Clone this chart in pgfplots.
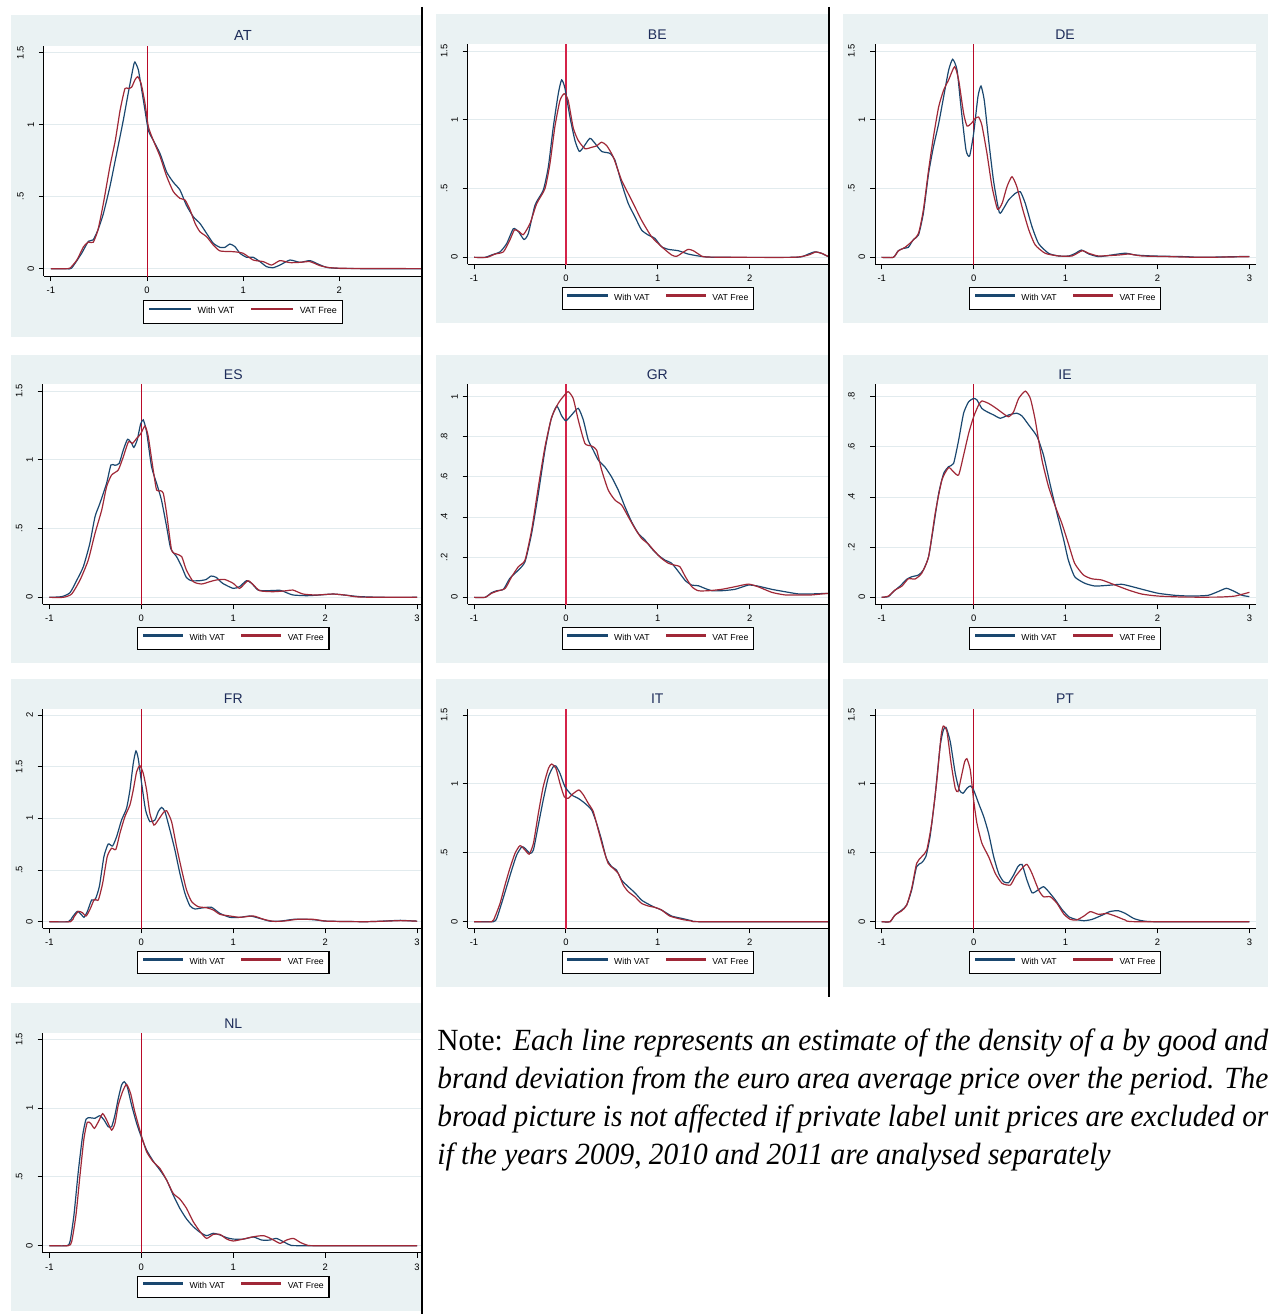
\documentclass[border=0pt]{standalone}
\usepackage{pgfplots}
\pgfplotsset{compat=1.18}
\usepackage{fontspec}
\setmainfont{Liberation Sans}
\newfontfamily\notefont[FakeStretch=0.955]{Liberation Serif}
\definecolor{bgc}{RGB}{234,242,243}
\definecolor{gridc}{RGB}{226,235,238}
\definecolor{navyc}{RGB}{26,71,111}
\definecolor{maroonc}{RGB}{160,40,55}
\definecolor{xthin}{RGB}{185,10,40}
\definecolor{xthick}{RGB}{212,35,72}
\definecolor{titlec}{RGB}{30,45,90}
\newcommand\dl[1]{\raisebox{5.2pt}{#1}}
\pgfplotsset{
  panel/.style={
    scale only axis, anchor=south west,
    axis x line=bottom, axis y line=left,
    axis line style={-, black, line width=0.5pt},
    tick align=outside, major tick length=2.5pt,
    tick style={black, line width=0.5pt},
    xtick={-1,0,1,2,3}, xticklabels={-1,0,1,2,3},
    xticklabel style={font=\fontsize{4.7pt}{5pt}\selectfont, inner sep=0pt, anchor=north, yshift=-2.75pt},
    yticklabel style={font=\fontsize{4.7pt}{5pt}\selectfont, rotate=90, anchor=south, inner sep=0pt},
    yticklabel shift=2.25pt,
    ymajorgrids, grid style={gridc, line width=0.5pt},
    axis background/.style={fill=white},
    legend columns=2, legend cell align=left,
    legend style={draw=black, line width=0.55pt, fill=white, inner xsep=2.6pt, inner ysep=3pt,
      anchor=center, font=\fontsize{4.35pt}{4.5pt}\selectfont,
      /tikz/every odd column/.append style={column sep=3.2pt},
      /tikz/every even column/.append style={column sep=8pt},
      nodes={inner sep=0pt}},
    clip=true,
  },
  wv/.style={navyc, line width=0.6pt, smooth, tension=0.35, forget plot},
  vf/.style={maroonc, line width=0.6pt, smooth, tension=0.35, forget plot},
  xln/.style={xthin, line width=0.5pt, forget plot},
  xlk/.style={xthick, line width=0.85pt, forget plot},
  geoL/.style={xmin=-1.072, xmax=3.043},
  geoM/.style={xmin=-1.069, xmax=2.863},
  geoR/.style={xmin=-1.073, xmax=3.072},
  y15/.style={ytick={0,0.5,1,1.5}, yticklabels={0,\dl{.5},1,\dl{1.5}}},
}
\newcommand\leg[1][19.65pt]{%
  \addlegendimage{legend image code/.code={\fill[navyc] (0pt,1.22pt) rectangle (#1,1.88pt);}}\addlegendentry{With VAT}%
  \addlegendimage{legend image code/.code={\fill[maroonc] (0pt,1.22pt) rectangle (#1,1.88pt);}}\addlegendentry{VAT Free}}
\begin{document}
\begin{tikzpicture}
\path[use as bounding box] (0pt,0pt) rectangle (637.5pt,-657pt);
% panel backgrounds
\fill[bgc] (5.5pt,-7.5pt) rectangle (211pt,-168.5pt);
\fill[bgc] (218pt,-7pt) rectangle (414.5pt,-161.35pt);
\fill[bgc] (421.65pt,-7pt) rectangle (633.85pt,-161.35pt);
\fill[bgc] (5.5pt,-177.5pt) rectangle (211pt,-331.35pt);
\fill[bgc] (218pt,-177.5pt) rectangle (414.5pt,-331.35pt);
\fill[bgc] (421.65pt,-177.5pt) rectangle (633.85pt,-331.35pt);
\fill[bgc] (5.5pt,-339.65pt) rectangle (211pt,-493.35pt);
\fill[bgc] (218pt,-339.65pt) rectangle (414.5pt,-493.35pt);
\fill[bgc] (421.65pt,-339.65pt) rectangle (633.85pt,-493.35pt);
\fill[bgc] (5.5pt,-501.65pt) rectangle (211pt,-655.35pt);
% titles
\begin{scope}[every node/.style={text=titlec, inner sep=0pt, anchor=center}]
\node[font=\fontsize{7.3pt}{8pt}\selectfont] at (121.5pt,-17.5pt) {AT};
\node[font=\fontsize{7pt}{8pt}\selectfont] at (328.65pt,-17.15pt) {BE};
\node[font=\fontsize{7pt}{8pt}\selectfont] at (532.5pt,-17.15pt) {DE};
\node[font=\fontsize{7pt}{8pt}\selectfont] at (116.65pt,-187.15pt) {ES};
\node[font=\fontsize{7pt}{8pt}\selectfont] at (328.65pt,-187.15pt) {GR};
\node[font=\fontsize{7pt}{8pt}\selectfont] at (532.5pt,-187.15pt) {IE};
\node[font=\fontsize{7pt}{8pt}\selectfont] at (116.65pt,-349.5pt) {FR};
\node[font=\fontsize{7pt}{8pt}\selectfont] at (328.65pt,-349.5pt) {IT};
\node[font=\fontsize{7pt}{8pt}\selectfont] at (532.5pt,-349.5pt) {PT};
\node[font=\fontsize{7pt}{8pt}\selectfont] at (116.65pt,-511.65pt) {NL};
\end{scope}

% AT
\begin{axis}[panel, at={(22pt,-138pt)}, width=188.5pt, height=115pt,
  xmin=-1.072, xmax=2.851, ymin=-0.0509, ymax=1.546, y15,
  legend style={at={(0.5279,-0.1565)}, font=\fontsize{4.5pt}{4.7pt}\selectfont, inner xsep=2.8pt, inner ysep=3.2pt,
    /tikz/every even column/.append style={column sep=8.5pt}}]
\addplot[xln] coordinates {(0,-1) (0,3)};
\addplot[wv] coordinates {(-1,0) (-0.84,0) (-0.785,0.004) (-0.68,0.107) (-0.61,0.19) (-0.56,0.2) (-0.51,0.27) (-0.455,0.38) (-0.386,0.57) (-0.316,0.80) (-0.247,1.03) (-0.195,1.22) (-0.143,1.40) (-0.126,1.435) (-0.09,1.38) (-0.055,1.24) (-0.021,1.10) (0.014,0.96) (0.066,0.89) (0.135,0.80) (0.205,0.67) (0.274,0.60) (0.343,0.546) (0.41,0.44) (0.482,0.36) (0.55,0.315) (0.62,0.245) (0.69,0.176) (0.76,0.148) (0.81,0.148) (0.863,0.171) (0.915,0.153) (0.967,0.107) (1.036,0.079) (1.105,0.079) (1.175,0.049) (1.244,0.014) (1.313,0.007) (1.383,0.025) (1.487,0.06) (1.591,0.044) (1.695,0.056) (1.78,0.032) (1.87,0.009) (2.0,0.002) (2.28,0) (3,0)};
\addplot[vf] coordinates {(-1,0) (-0.85,0) (-0.8,0.005) (-0.73,0.06) (-0.66,0.153) (-0.61,0.185) (-0.56,0.183) (-0.51,0.27) (-0.455,0.45) (-0.386,0.71) (-0.33,0.89) (-0.28,1.10) (-0.23,1.25) (-0.195,1.25) (-0.16,1.26) (-0.126,1.31) (-0.097,1.333) (-0.062,1.287) (-0.021,1.148) (0.014,0.986) (0.066,0.89) (0.135,0.78) (0.205,0.64) (0.274,0.535) (0.343,0.488) (0.395,0.477) (0.447,0.41) (0.5,0.315) (0.55,0.257) (0.62,0.222) (0.69,0.164) (0.76,0.123) (0.9,0.118) (1.0,0.107) (1.105,0.06) (1.21,0.049) (1.296,0.025) (1.383,0.056) (1.487,0.042) (1.591,0.044) (1.695,0.049) (1.8,0.021) (1.9,0.007) (2.11,0.002) (3,0)};
\leg[20.5pt]
\end{axis}

% BE
\begin{axis}[panel, at={(233.85pt,-132.15pt)}, width=180.65pt, height=110pt,
  geoM, ymin=-0.0507, ymax=1.5487, y15,
  legend style={at={(0.5263,-0.1555)}}]
\addplot[xlk] coordinates {(0,-1) (0,3)};
\addplot[wv] coordinates {(-1,0) (-0.88,0) (-0.81,0.017) (-0.717,0.04) (-0.645,0.10) (-0.572,0.208) (-0.517,0.187) (-0.456,0.13) (-0.409,0.174) (-0.336,0.38) (-0.246,0.49) (-0.191,0.66) (-0.137,0.95) (-0.083,1.19) (-0.047,1.29) (-0.011,1.23) (0.044,1.02) (0.098,0.85) (0.145,0.77) (0.19,0.80) (0.26,0.865) (0.315,0.83) (0.388,0.77) (0.478,0.756) (0.533,0.707) (0.606,0.538) (0.678,0.392) (0.75,0.296) (0.823,0.199) (0.896,0.162) (0.968,0.138) (1.04,0.078) (1.115,0.058) (1.224,0.048) (1.33,0.024) (1.44,0.01) (1.55,0.002) (1.73,0) (2.46,0) (2.57,0.005) (2.64,0.024) (2.71,0.04) (2.78,0.03) (2.86,0.005) (3,0)};
\addplot[vf] coordinates {(-1,0) (-0.86,0) (-0.77,0.024) (-0.68,0.04) (-0.61,0.126) (-0.56,0.2) (-0.51,0.187) (-0.463,0.165) (-0.39,0.247) (-0.318,0.39) (-0.228,0.50) (-0.174,0.68) (-0.12,0.95) (-0.065,1.14) (-0.018,1.19) (0.025,1.14) (0.08,0.94) (0.134,0.85) (0.207,0.79) (0.28,0.80) (0.334,0.81) (0.388,0.837) (0.443,0.813) (0.515,0.73) (0.606,0.56) (0.714,0.417) (0.823,0.27) (0.932,0.15) (1.04,0.078) (1.15,0.017) (1.205,0.007) (1.26,0.03) (1.33,0.058) (1.387,0.048) (1.46,0.017) (1.55,0.002) (2.46,0) (2.64,0.017) (2.72,0.039) (2.8,0.025) (2.86,0.005) (3,0)};
\leg
\end{axis}

% DE
\begin{axis}[panel, at={(437.5pt,-132.15pt)}, width=190.5pt, height=110pt,
  geoR, ymin=-0.0507, ymax=1.5487, y15,
  legend style={at={(0.4987,-0.1555)}}]
\addplot[xln] coordinates {(0,-1) (0,3)};
\addplot[wv] coordinates {(-1,0) (-0.873,0) (-0.82,0.048) (-0.764,0.065) (-0.71,0.073) (-0.655,0.13) (-0.6,0.162) (-0.547,0.32) (-0.49,0.61) (-0.437,0.804) (-0.38,0.974) (-0.326,1.168) (-0.272,1.36) (-0.228,1.44) (-0.18,1.36) (-0.134,1.07) (-0.083,0.78) (-0.044,0.737) (0,0.90) (0.047,1.168) (0.08,1.245) (0.116,1.14) (0.163,0.853) (0.218,0.55) (0.28,0.325) (0.326,0.356) (0.38,0.417) (0.453,0.465) (0.508,0.477) (0.562,0.392) (0.635,0.223) (0.707,0.10) (0.816,0.029) (0.925,0.01) (1.036,0.01) (1.109,0.03) (1.174,0.053) (1.254,0.024) (1.36,0.005) (1.5,0.017) (1.65,0.03) (1.76,0.017) (1.94,0.01) (2.3,0.005) (2.48,0) (3,0.007)};
\addplot[vf] coordinates {(-1,0) (-0.873,0) (-0.82,0.046) (-0.746,0.073) (-0.674,0.114) (-0.6,0.174) (-0.547,0.344) (-0.49,0.635) (-0.437,0.877) (-0.38,1.095) (-0.326,1.216) (-0.272,1.29) (-0.207,1.386) (-0.163,1.29) (-0.109,1.047) (-0.072,0.955) (-0.025,0.974) (0.018,1.01) (0.054,1.02) (0.09,0.96) (0.145,0.756) (0.2,0.514) (0.26,0.35) (0.31,0.393) (0.363,0.514) (0.417,0.586) (0.47,0.514) (0.526,0.368) (0.6,0.2) (0.67,0.09) (0.78,0.029) (0.925,0.01) (1.07,0.01) (1.18,0.048) (1.254,0.029) (1.36,0.01) (1.58,0.017) (1.69,0.024) (1.83,0.01) (2.12,0.005) (2.48,0) (3,0.005)};
\leg
\end{axis}

% ES
\begin{axis}[panel, at={(21.35pt,-302.15pt)}, width=189.15pt, height=110pt,
  geoL, ymin=-0.0507, ymax=1.5487, y15,
  legend style={at={(0.5038,-0.1555)}}]
\addplot[xln] coordinates {(0,-1) (0,3)};
\addplot[wv] coordinates {(-1,0) (-0.866,0.005) (-0.775,0.034) (-0.7,0.126) (-0.63,0.223) (-0.56,0.39) (-0.503,0.586) (-0.45,0.683) (-0.377,0.829) (-0.33,0.962) (-0.286,0.96) (-0.24,0.974) (-0.196,1.07) (-0.149,1.149) (-0.105,1.12) (-0.08,1.09) (-0.044,1.144) (-0.007,1.26) (0.022,1.29) (0.058,1.204) (0.112,0.95) (0.167,0.829) (0.22,0.707) (0.276,0.514) (0.32,0.356) (0.384,0.296) (0.44,0.223) (0.49,0.145) (0.544,0.121) (0.635,0.121) (0.707,0.13) (0.76,0.155) (0.816,0.145) (0.885,0.102) (1.0,0.065) (1.07,0.078) (1.145,0.121) (1.2,0.102) (1.27,0.053) (1.36,0.048) (1.51,0.051) (1.58,0.034) (1.65,0.017) (1.8,0.012) (1.94,0.017) (2.09,0.024) (2.235,0.015) (2.38,0.005) (2.63,0) (3,0)};
\addplot[vf] coordinates {(-1,0) (-0.85,0) (-0.757,0.024) (-0.666,0.126) (-0.577,0.27) (-0.503,0.465) (-0.43,0.635) (-0.377,0.804) (-0.323,0.889) (-0.25,0.926) (-0.196,1.02) (-0.14,1.13) (-0.094,1.12) (-0.05,1.156) (-0.007,1.187) (0.04,1.245) (0.076,1.17) (0.13,0.926) (0.167,0.78) (0.21,0.775) (0.24,0.756) (0.276,0.61) (0.33,0.344) (0.384,0.315) (0.44,0.296) (0.49,0.2) (0.566,0.114) (0.656,0.097) (0.747,0.114) (0.816,0.126) (0.907,0.13) (1.0,0.102) (1.07,0.065) (1.16,0.121) (1.22,0.09) (1.29,0.048) (1.436,0.041) (1.58,0.048) (1.65,0.053) (1.76,0.024) (1.9,0.017) (2.09,0.024) (2.235,0.015) (2.38,0.002) (3,0)};
\leg
\end{axis}

% GR
\begin{axis}[panel, at={(233.85pt,-302.15pt)}, width=180.65pt, height=110pt,
  geoM, ymin=-0.0347, ymax=1.0616,
  ytick={0,0.2,0.4,0.6,0.8,1}, yticklabels={0,\dl{.2},\dl{.4},\dl{.6},\dl{.8},1},
  legend style={at={(0.5263,-0.1555)}}]
\addplot[xlk] coordinates {(0,-1) (0,3)};
\addplot[wv] coordinates {(-1,0) (-0.88,0) (-0.81,0.023) (-0.753,0.033) (-0.68,0.04) (-0.61,0.095) (-0.517,0.136) (-0.445,0.178) (-0.373,0.319) (-0.3,0.518) (-0.228,0.734) (-0.163,0.884) (-0.1,0.953) (-0.047,0.905) (0,0.88) (0.062,0.909) (0.134,0.942) (0.189,0.884) (0.243,0.784) (0.297,0.734) (0.352,0.684) (0.424,0.65) (0.497,0.60) (0.569,0.535) (0.642,0.452) (0.714,0.377) (0.787,0.319) (0.86,0.286) (0.932,0.244) (1.005,0.21) (1.077,0.186) (1.15,0.17) (1.225,0.128) (1.3,0.083) (1.37,0.061) (1.44,0.058) (1.51,0.045) (1.59,0.033) (1.695,0.033) (1.84,0.04) (1.985,0.061) (2.09,0.056) (2.24,0.04) (2.385,0.028) (2.53,0.017) (2.67,0.017) (2.86,0.02) (3,0.02)};
\addplot[vf] coordinates {(-1,0) (-0.88,0) (-0.81,0.02) (-0.735,0.033) (-0.66,0.045) (-0.59,0.103) (-0.517,0.153) (-0.445,0.186) (-0.373,0.336) (-0.3,0.551) (-0.228,0.75) (-0.156,0.897) (-0.083,0.967) (-0.03,1.0) (0.025,1.025) (0.08,0.99) (0.134,0.884) (0.207,0.767) (0.28,0.754) (0.334,0.734) (0.388,0.635) (0.46,0.535) (0.533,0.485) (0.606,0.46) (0.678,0.402) (0.75,0.344) (0.823,0.294) (0.896,0.266) (0.968,0.228) (1.04,0.194) (1.115,0.17) (1.187,0.16) (1.24,0.153) (1.3,0.103) (1.37,0.053) (1.44,0.033) (1.55,0.033) (1.695,0.04) (1.84,0.053) (1.985,0.066) (2.09,0.053) (2.24,0.025) (2.385,0.012) (2.53,0.012) (2.67,0.012) (2.86,0.02) (3,0.02)};
\leg
\end{axis}

% IE
\begin{axis}[panel, at={(437.5pt,-302.15pt)}, width=190.5pt, height=110pt,
  geoR, ymin=-0.0278, ymax=0.8493,
  ytick={0,0.2,0.4,0.6,0.8}, yticklabels={0,\dl{.2},\dl{.4},\dl{.6},\dl{.8}},
  legend style={at={(0.4987,-0.1555)}}]
\addplot[xln] coordinates {(0,-1) (0,3)};
\addplot[wv] coordinates {(-1,0) (-0.927,0.003) (-0.873,0.023) (-0.8,0.045) (-0.728,0.072) (-0.674,0.082) (-0.6,0.089) (-0.547,0.109) (-0.49,0.162) (-0.437,0.28) (-0.38,0.415) (-0.326,0.494) (-0.272,0.521) (-0.218,0.534) (-0.163,0.627) (-0.109,0.734) (-0.054,0.78) (0,0.793) (0.036,0.787) (0.09,0.753) (0.145,0.74) (0.218,0.727) (0.29,0.714) (0.38,0.727) (0.47,0.734) (0.526,0.723) (0.6,0.687) (0.69,0.641) (0.76,0.567) (0.83,0.454) (0.907,0.335) (0.98,0.229) (1.03,0.149) (1.1,0.082) (1.21,0.056) (1.32,0.045) (1.465,0.048) (1.61,0.052) (1.72,0.043) (1.865,0.029) (2.01,0.016) (2.19,0.008) (2.37,0.005) (2.55,0.008) (2.66,0.023) (2.75,0.036) (2.84,0.023) (2.92,0.008) (3,0.003)};
\addplot[vf] coordinates {(-1,0) (-0.927,0.005) (-0.855,0.029) (-0.78,0.045) (-0.71,0.074) (-0.637,0.073) (-0.565,0.096) (-0.49,0.162) (-0.418,0.335) (-0.345,0.468) (-0.272,0.517) (-0.218,0.5) (-0.163,0.488) (-0.109,0.567) (-0.054,0.654) (0,0.72) (0.054,0.767) (0.09,0.783) (0.163,0.773) (0.236,0.756) (0.31,0.736) (0.38,0.72) (0.435,0.74) (0.49,0.793) (0.562,0.822) (0.617,0.793) (0.67,0.707) (0.744,0.547) (0.816,0.44) (0.89,0.361) (0.96,0.295) (1.03,0.215) (1.1,0.135) (1.195,0.089) (1.285,0.074) (1.395,0.069) (1.54,0.049) (1.685,0.029) (1.83,0.013) (2.01,0.005) (2.3,0.001) (2.66,0.001) (2.84,0.005) (3,0.02)};
\leg
\end{axis}

% FR
\begin{axis}[panel, at={(21.35pt,-464.15pt)}, width=189.15pt, height=109.65pt,
  geoL, ymin=-0.0642, ymax=2.058,
  ytick={0,0.5,1,1.5,2}, yticklabels={0,\dl{.5},1,\dl{1.5},2},
  legend style={at={(0.5038,-0.156)}}]
\addplot[xln] coordinates {(0,-1) (0,3)};
\addplot[wv] coordinates {(-1,0) (-0.793,0) (-0.746,0.048) (-0.695,0.1) (-0.648,0.065) (-0.623,0.042) (-0.587,0.097) (-0.54,0.21) (-0.503,0.21) (-0.456,0.339) (-0.406,0.63) (-0.359,0.752) (-0.312,0.732) (-0.268,0.823) (-0.214,0.984) (-0.16,1.097) (-0.123,1.274) (-0.087,1.532) (-0.058,1.652) (-0.033,1.58) (0.004,1.34) (0.047,1.08) (0.094,0.968) (0.149,0.984) (0.185,1.065) (0.221,1.106) (0.258,1.065) (0.312,0.887) (0.366,0.694) (0.42,0.468) (0.475,0.274) (0.53,0.152) (0.584,0.123) (0.675,0.135) (0.765,0.139) (0.856,0.08) (0.965,0.042) (1.074,0.042) (1.183,0.055) (1.29,0.032) (1.4,0.005) (1.51,0.005) (1.66,0.023) (1.8,0.023) (1.91,0.016) (2.02,0.005) (2.45,0) (2.74,0.01) (2.82,0.013) (3,0.005)};
\addplot[vf] coordinates {(-1,0) (-0.77,0) (-0.73,0.048) (-0.684,0.1) (-0.64,0.087) (-0.6,0.055) (-0.557,0.12) (-0.51,0.216) (-0.467,0.21) (-0.42,0.371) (-0.37,0.63) (-0.323,0.71) (-0.276,0.7) (-0.232,0.855) (-0.178,1.016) (-0.123,1.13) (-0.087,1.274) (-0.05,1.452) (-0.015,1.51) (0.022,1.435) (0.058,1.274) (0.094,1.048) (0.138,0.935) (0.185,0.984) (0.24,1.055) (0.276,1.074) (0.33,0.968) (0.384,0.726) (0.44,0.5) (0.493,0.306) (0.548,0.194) (0.62,0.145) (0.71,0.135) (0.784,0.113) (0.856,0.071) (0.965,0.055) (1.074,0.042) (1.22,0.055) (1.33,0.023) (1.44,0.003) (1.55,0.006) (1.7,0.023) (1.87,0.023) (2.02,0.005) (2.45,0) (2.82,0.01) (3,0.005)};
\leg
\end{axis}

% IT
\begin{axis}[panel, at={(233.85pt,-464.15pt)}, width=180.65pt, height=109.65pt,
  geoM, ymin=-0.0481, ymax=1.5435, y15,
  legend style={at={(0.5263,-0.156)}}]
\addplot[xlk] coordinates {(0,-1) (0,3)};
\addplot[wv] coordinates {(-1,0) (-0.79,0) (-0.753,0.024) (-0.7,0.133) (-0.645,0.254) (-0.59,0.375) (-0.536,0.484) (-0.48,0.544) (-0.445,0.532) (-0.39,0.496) (-0.354,0.52) (-0.3,0.702) (-0.247,0.883) (-0.19,1.052) (-0.138,1.125) (-0.109,1.13) (-0.065,1.077) (-0.011,0.98) (0.062,0.92) (0.134,0.895) (0.207,0.859) (0.28,0.81) (0.334,0.714) (0.388,0.593) (0.44,0.46) (0.497,0.4) (0.55,0.375) (0.606,0.302) (0.678,0.254) (0.75,0.21) (0.823,0.157) (0.896,0.128) (0.968,0.104) (1.04,0.085) (1.15,0.041) (1.26,0.024) (1.37,0.007) (1.48,0) (3,0)};
\addplot[vf] coordinates {(-1,0) (-0.808,0) (-0.772,0.036) (-0.717,0.133) (-0.663,0.266) (-0.61,0.387) (-0.554,0.496) (-0.5,0.552) (-0.445,0.52) (-0.4,0.49) (-0.354,0.568) (-0.3,0.786) (-0.247,0.98) (-0.19,1.113) (-0.156,1.144) (-0.109,1.113) (-0.065,1.004) (-0.018,0.907) (0.025,0.895) (0.08,0.93) (0.141,0.956) (0.19,0.92) (0.243,0.859) (0.297,0.8) (0.352,0.666) (0.406,0.532) (0.46,0.423) (0.515,0.387) (0.57,0.35) (0.624,0.266) (0.678,0.218) (0.75,0.181) (0.823,0.133) (0.896,0.114) (0.968,0.104) (1.04,0.085) (1.13,0.041) (1.26,0.017) (1.37,0.005) (1.48,0) (3,0)};
\leg
\end{axis}

% PT
\begin{axis}[panel, at={(437.5pt,-464.15pt)}, width=190.5pt, height=109.65pt,
  geoR, ymin=-0.0481, ymax=1.5435, y15,
  legend style={at={(0.4987,-0.156)}}]
\addplot[xln] coordinates {(0,-1) (0,3)};
\addplot[wv] coordinates {(-1,0) (-0.91,0) (-0.855,0.048) (-0.78,0.085) (-0.728,0.121) (-0.674,0.23) (-0.62,0.4) (-0.565,0.428) (-0.52,0.472) (-0.474,0.617) (-0.42,0.907) (-0.365,1.27) (-0.33,1.39) (-0.3,1.41) (-0.254,1.306) (-0.2,1.077) (-0.156,0.956) (-0.116,0.932) (-0.073,0.968) (-0.036,0.985) (0,0.956) (0.054,0.859) (0.11,0.762) (0.163,0.641) (0.218,0.472) (0.272,0.35) (0.326,0.29) (0.38,0.283) (0.435,0.339) (0.482,0.4) (0.526,0.416) (0.58,0.302) (0.635,0.21) (0.69,0.225) (0.76,0.254) (0.816,0.218) (0.89,0.157) (0.96,0.09) (1.036,0.036) (1.11,0.017) (1.2,0.007) (1.29,0.017) (1.4,0.048) (1.48,0.073) (1.57,0.08) (1.65,0.06) (1.74,0.024) (1.83,0.007) (1.98,0) (3,0)};
\addplot[vf] coordinates {(-1,0) (-0.91,0) (-0.855,0.048) (-0.78,0.08) (-0.728,0.121) (-0.674,0.242) (-0.62,0.423) (-0.565,0.472) (-0.51,0.52) (-0.456,0.714) (-0.4,1.028) (-0.355,1.343) (-0.33,1.42) (-0.29,1.379) (-0.245,1.149) (-0.2,0.968) (-0.17,0.944) (-0.134,1.052) (-0.098,1.16) (-0.073,1.183) (-0.036,1.1) (0,0.883) (0.036,0.714) (0.09,0.569) (0.163,0.472) (0.236,0.35) (0.31,0.278) (0.4,0.266) (0.453,0.327) (0.526,0.387) (0.58,0.416) (0.635,0.35) (0.707,0.23) (0.76,0.181) (0.834,0.181) (0.907,0.133) (0.98,0.056) (1.05,0.017) (1.12,0.012) (1.2,0.041) (1.27,0.073) (1.36,0.053) (1.45,0.06) (1.54,0.041) (1.65,0.012) (1.76,0) (3,0)};
\leg
\end{axis}

% NL
\begin{axis}[panel, at={(21.35pt,-626.35pt)}, width=189.15pt, height=109.7pt,
  geoL, ymin=-0.0511, ymax=1.5438, y15,
  legend style={at={(0.5038,-0.155)}}]
\addplot[xln] coordinates {(0,-1) (0,3)};
\addplot[wv] coordinates {(-1,0) (-0.81,0) (-0.775,0.029) (-0.732,0.223) (-0.685,0.538) (-0.637,0.804) (-0.6,0.92) (-0.557,0.93) (-0.503,0.926) (-0.45,0.945) (-0.405,0.914) (-0.36,0.865) (-0.322,0.865) (-0.286,0.95) (-0.25,1.07) (-0.214,1.168) (-0.185,1.192) (-0.152,1.156) (-0.105,1.022) (-0.05,0.889) (0,0.792) (0.058,0.695) (0.13,0.615) (0.203,0.55) (0.276,0.477) (0.348,0.368) (0.42,0.271) (0.493,0.194) (0.566,0.138) (0.64,0.097) (0.71,0.073) (0.784,0.09) (0.856,0.078) (0.93,0.058) (1.0,0.048) (1.11,0.048) (1.22,0.063) (1.31,0.041) (1.4,0.041) (1.47,0.053) (1.546,0.029) (1.62,0.005) (1.73,0) (3,0)};
\addplot[vf] coordinates {(-1,0) (-0.795,0) (-0.757,0.029) (-0.71,0.223) (-0.666,0.514) (-0.623,0.78) (-0.587,0.897) (-0.55,0.889) (-0.51,0.853) (-0.467,0.9) (-0.42,0.96) (-0.377,0.914) (-0.323,0.84) (-0.286,0.889) (-0.25,1.022) (-0.203,1.12) (-0.16,1.173) (-0.116,1.107) (-0.07,0.973) (0,0.804) (0.058,0.683) (0.13,0.61) (0.203,0.562) (0.276,0.477) (0.348,0.38) (0.42,0.339) (0.493,0.271) (0.566,0.174) (0.64,0.102) (0.71,0.053) (0.784,0.082) (0.856,0.082) (0.93,0.048) (1.0,0.034) (1.11,0.048) (1.22,0.065) (1.33,0.073) (1.42,0.048) (1.51,0.017) (1.58,0.041) (1.655,0.053) (1.73,0.024) (1.8,0.005) (1.9,0) (3,0)};
\leg
\end{axis}

% separators
\draw[black, line width=0.85pt] (210.9pt,-3.4pt) -- (210.9pt,-657pt);
\draw[black, line width=0.85pt] (414.6pt,-3.4pt) -- (414.6pt,-498.5pt);

% note
\begin{scope}[every node/.style={anchor=base west, inner sep=0pt, font=\notefont\fontsize{15.4pt}{17pt}\selectfont}]
\node at (218.5pt,-525.2pt) {\makebox[415.5pt][s]{Note: \textit{Each line represents an estimate of the density of a by good and}}};
\node at (218.5pt,-544.3pt) {\makebox[415.5pt][s]{\textit{brand deviation from the euro area average price over the period. The}}};
\node at (218.5pt,-563.4pt) {\makebox[415.5pt][s]{\textit{broad picture is not affected if private label unit prices are excluded or}}};
\node at (218.5pt,-582.2pt) {\textit{if the years 2009, 2010 and 2011 are analysed separately}};
\end{scope}
\end{tikzpicture}
\end{document}
